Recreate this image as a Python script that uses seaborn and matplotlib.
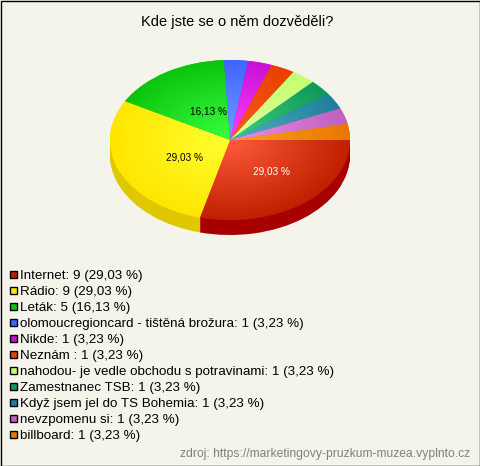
import numpy as np
import matplotlib
matplotlib.use('Agg')
import matplotlib.pyplot as plt
import seaborn as sns
from matplotlib.colors import LinearSegmentedColormap
from matplotlib.patches import Rectangle

sns.set_style('white')
plt.rcParams['font.family'] = ['Liberation Sans', 'DejaVu Sans']

title = 'Kde jste se o něm dozvěděli?'
source = 'zdroj: https://marketingovy-pruzkum-muzea.vyplnto.cz'
categories = ['Internet', 'Rádio', 'Leták', 'olomoucregioncard - tištěná brožura', 'Nikde', 'Neznám ',
              'nahodou- je vedle obchodu s potravinami', 'Zamestnanec TSB', 'Když jsem jel do TS Bohemia',
              'nevzpomenu si', 'billboard']
counts = [9, 9, 5, 1, 1, 1, 1, 1, 1, 1, 1]
percents = ['29,03', '29,03', '16,13', '3,23', '3,23', '3,23', '3,23', '3,23', '3,23', '3,23', '3,23']

# colours: legend/edge, light centre, side wall
edge_cols = ['#bf2000', '#ffe600', '#0cc40c', '#4064ff', '#c810d8', '#e84000', '#c4ff70',
             '#0e9a58', '#20809c', '#c060c0', '#e87800']
inner_cols = ['#ff5a3c', '#ffff30', '#38ff40', '#70a0ff', '#ff40ff', '#ff5a20', '#e0ffa0',
              '#40d080', '#50b0c0', '#e890e8', '#ffa020']
side_cols = ['#a80000', '#e0c800', '#0ca00c', '#3050d0', '#a010b0', '#c03000', '#a0d060',
             '#0c8048', '#186880', '#a050a0', '#c06000']
palette = sns.color_palette(edge_cols)

W, H = 480, 466
fig = plt.figure(figsize=(W / 100, H / 100), dpi=100, facecolor='#f5f4eb')

# whole figure overlay in pixels for texts and frame
bg = fig.add_axes([0, 0, 1, 1])
bg.set_xlim(0, W)
bg.set_ylim(H, 0)
bg.axis('off')
bg.add_patch(Rectangle((0.5, 0.5), W - 1, H - 1, fill=False, ec='black', lw=1))

# pie axes: ellipse 240 x 160 px
ax = fig.add_axes([110 / W, (H - 220) / H, 240 / W, 160 / H])
flat = {'linewidth': 0}
depth = 15
for k in range(depth, 0, -1):
    ax.pie(counts, colors=side_cols, startangle=0, counterclock=False,
           center=(0, -k / 80), radius=1, wedgeprops=flat)
wedges, _ = ax.pie(counts, colors=palette, startangle=0, counterclock=False, radius=1, wedgeprops=flat)

# radial gradient inside every wedge
xx, yy = np.meshgrid(np.linspace(-1, 1, 480), np.linspace(-1, 1, 320))
rr = np.hypot(xx, yy)
for w, c0, c1 in zip(wedges, inner_cols, edge_cols):
    cmap = LinearSegmentedColormap.from_list('g', [c0, c1])
    im = ax.imshow(rr, extent=(-1, 1, -1, 1), origin='lower', cmap=cmap, vmin=0, vmax=1, zorder=3)
    im.set_clip_path(w)
ax.set_aspect('auto')
ax.set_xlim(-1, 1)
ax.set_ylim(-1, 1)
ax.axis('off')

bg.set_zorder(5)
bg.patch.set_alpha(0)

bg.text(237, 22, title, ha='center', va='center', fontsize=10.5, color='black')

# percentage labels on the big slices
bg.text(271.5, 171, percents[0] + ' %', ha='center', va='center', fontsize=7.2, color='white')
bg.text(184.5, 158, percents[1] + ' %', ha='center', va='center', fontsize=7.2, color='black')
bg.text(209, 112, percents[2] + ' %', ha='center', va='center', fontsize=7.2, color='black')

# legend
for i, (cat, n, p) in enumerate(zip(categories, counts, percents)):
    y = 274 + i * 16
    bg.add_patch(Rectangle((9.5, y - 3.5), 7, 7, fc=palette[i], ec='black', lw=1))
    bg.text(20, y + 1.5, f'{cat}: {n} ({p} %)', ha='left', va='center', fontsize=9.65, color='black')

bg.text(470, 454, source, ha='right', va='center', fontsize=8.75, color='#808080')

fig.savefig('out.png', dpi=100, facecolor=fig.get_facecolor())
